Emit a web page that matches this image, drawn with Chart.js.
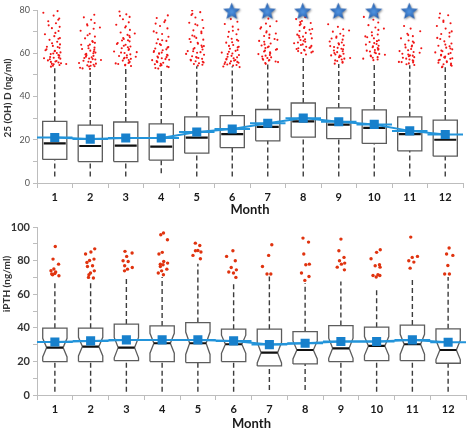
<!DOCTYPE html>
<html>
<head>
<meta charset="utf-8">
<script src="https://cdn.jsdelivr.net/npm/chart.js@4.4.1/dist/chart.umd.min.js"></script>
<style>
  html, body { margin: 0; padding: 0; background: #fff; overflow: hidden; }
  .panel { position: absolute; left: 0; width: 473px; }
  #top { top: 0; height: 217px; }
  #bottom { top: 217px; height: 211px; }
</style>
</head>
<body>
<div class="panel" id="top"><canvas id="vitdChart" width="473" height="217"></canvas></div>
<div class="panel" id="bottom"><canvas id="ipthChart" width="473" height="211"></canvas></div>
<script>
// ---- data ----
const months = [1, 2, 3, 4, 5, 6, 7, 8, 9, 10, 11, 12];
const monthLabels = ['1', '2', '3', '4', '5', '6', '7', '8', '9', '10', '11', '12'];

// 25 (OH) D, ng/ml
const vitdLow    = [3, 3, 3, 4.5, 3, 3, 3, 3, 3, 3, 3, 3];
const vitdQ1     = [10.9, 9.9, 9.9, 10.6, 13.8, 16.4, 19.5, 21.2, 20.5, 18.3, 14.9, 12.4];
const vitdMedian = [18.3, 17.1, 17.3, 16.8, 21.0, 22.6, 26.0, 28.5, 27.0, 25.5, 22.6, 20.0];
const vitdQ3     = [28.5, 26.8, 28.2, 27.3, 30.6, 31.2, 34.0, 37.0, 34.7, 33.8, 30.6, 29.1];
const vitdHigh   = [54, 53, 54, 53, 54, 54, 55, 59, 55, 56, 54.5, 53.5];
const vitdMean   = [21.0, 20.3, 20.8, 20.8, 23.6, 25.0, 27.6, 30.0, 28.3, 27.1, 24.1, 22.4];
const vitdStarMonths = [6, 7, 8, 9, 10, 11];
const vitdOutliers = [
  [53.8, 54.6, 55.1, 55.4, 56.2, 56.7, 57.5, 57.9, 58.3, 59.2, 59.6, 60.4, 61.1, 61.8, 62.5, 63.4, 64.1, 65.3, 66.2, 67.0, 67.9, 68.8, 70.3, 71.6, 72.2, 73.9, 74.8, 76.1, 77.4, 78.7, 79.5, 56.0, 58.9, 60.9, 63.0, 55.7,
   54.2, 55.0, 56.4, 57.2, 58.0, 59.9, 61.4, 62.9, 64.6, 66.7, 69.4, 72.9, 75.5, 54.9, 57.7, 60.1],
  [52.7, 53.3, 54.0, 54.4, 55.2, 55.9, 56.5, 57.1, 57.6, 58.4, 58.8, 59.7, 60.3, 61.2, 62.0, 62.6, 63.5, 64.8, 65.6, 66.9, 67.7, 69.0, 70.4, 71.3, 72.8, 74.0, 75.5, 76.6, 77.8, 53.9, 55.5, 57.3, 59.1, 61.6, 64.0,
   53.0, 54.7, 56.1, 56.9, 58.1, 59.4, 60.8, 62.3, 63.9, 65.2, 68.3, 71.9, 54.2, 57.8, 60.0, 73.4],
  [54.1, 54.7, 55.3, 56.1, 56.6, 57.4, 58.0, 58.7, 59.5, 60.1, 60.8, 61.5, 62.3, 63.1, 63.9, 64.7, 65.5, 66.6, 67.4, 68.5, 69.6, 70.8, 71.9, 73.2, 74.3, 75.7, 76.8, 78.0, 79.3, 55.8, 57.9, 60.5, 62.8, 65.9, 68.1,
   54.4, 55.0, 56.9, 57.6, 58.4, 59.1, 60.3, 61.9, 63.5, 64.3, 66.0, 67.0, 69.1, 72.5, 77.3, 55.5],
  [52.9, 53.6, 54.2, 54.9, 55.6, 56.4, 57.0, 57.7, 58.5, 59.0, 59.8, 60.6, 61.4, 62.2, 62.9, 63.8, 64.6, 65.7, 66.5, 67.6, 68.9, 70.1, 71.5, 72.6, 73.7, 75.2, 76.3, 77.5, 54.5, 56.8, 58.2, 60.0, 62.6, 66.0,
   53.2, 53.9, 55.1, 55.9, 57.3, 58.0, 59.3, 60.3, 61.0, 61.8, 64.2, 69.5, 74.4, 56.1],
  [54.3, 55.0, 55.7, 56.3, 57.0, 57.8, 58.6, 59.3, 60.2, 60.9, 61.7, 62.4, 63.3, 64.4, 65.2, 66.3, 67.1, 68.2, 69.3, 70.6, 71.7, 72.9, 74.1, 75.4, 76.5, 77.7, 79.0, 79.8, 56.1, 58.0, 61.0, 63.6, 67.8,
   54.7, 55.4, 56.7, 57.4, 58.3, 59.7, 60.5, 62.0, 62.9, 64.8, 66.6, 70.0, 73.4, 78.3],
  [53.6, 54.3, 55.0, 55.6, 56.3, 57.1, 57.7, 58.4, 59.2, 59.9, 60.7, 61.5, 62.1, 63.0, 63.8, 64.9, 65.8, 66.7, 67.6, 68.8, 69.9, 71.0, 72.3, 73.5, 74.6, 75.8, 54.8, 56.9, 59.6, 62.7, 65.1,
   53.9, 54.6, 55.3, 56.0, 56.6, 57.4, 58.1, 58.8, 60.3, 61.1, 63.4, 66.2, 70.4, 55.8],
  [55.1, 55.9, 56.6, 57.4, 58.1, 58.9, 59.6, 60.4, 61.2, 61.9, 62.8, 63.6, 64.5, 65.3, 66.2, 67.1, 68.0, 69.1, 70.2, 71.4, 72.5, 73.7, 74.8, 76.0, 57.0, 60.0, 62.4, 65.7, 68.6,
   55.5, 56.2, 57.8, 58.5, 59.2, 60.8, 61.6, 63.1, 64.1, 66.6, 69.6, 72.0, 56.9],
  [59.4, 60.1, 60.8, 61.6, 62.3, 63.0, 63.8, 64.6, 65.3, 66.1, 66.9, 67.7, 68.6, 69.4, 70.3, 71.2, 72.1, 73.0, 74.0, 74.9, 75.8, 76.7, 61.0, 63.4, 65.8, 68.1, 70.9, 73.5,
   60.4, 61.3, 62.0, 62.7, 64.1, 65.0, 66.5, 67.3, 69.0, 71.7, 74.4, 62.5],
  [55.2, 56.0, 56.7, 57.5, 58.2, 59.0, 59.8, 60.5, 61.3, 62.1, 62.9, 63.7, 64.6, 65.4, 66.3, 67.2, 68.1, 69.0, 70.0, 71.1, 72.2, 73.4, 57.1, 59.4, 61.8, 64.1, 66.8,
   55.6, 56.4, 57.8, 58.6, 60.1, 60.9, 62.5, 63.3, 65.0, 67.7, 70.5, 58.9],
  [56.8, 57.5, 58.2, 58.9, 59.7, 60.4, 61.2, 62.0, 62.8, 63.5, 64.3, 65.2, 66.0, 66.9, 67.8, 68.7, 69.7, 70.8, 71.9, 73.0, 74.2, 75.5, 76.8, 78.1, 58.6, 61.6, 64.7, 67.4,
   57.1, 57.9, 59.3, 60.0, 60.8, 62.4, 63.2, 64.0, 65.6, 68.2, 71.4, 61.5],
  [54.6, 55.3, 56.0, 56.7, 57.5, 58.2, 59.0, 59.8, 60.6, 61.4, 62.3, 63.1, 64.0, 64.9, 65.9, 66.9, 67.9, 69.0, 70.2, 71.4, 72.6, 56.4, 58.6, 61.0, 63.6,
   54.9, 55.7, 57.1, 57.9, 58.9, 59.4, 60.2, 62.0, 62.7, 65.4, 68.4, 55.9],
  [53.5, 54.2, 54.9, 55.6, 56.3, 57.0, 57.7, 58.5, 59.3, 60.1, 60.9, 61.8, 62.6, 63.5, 64.5, 65.5, 66.6, 67.7, 68.9, 70.1, 71.4, 72.6, 73.9, 75.1, 76.4, 77.6, 78.4, 55.2, 57.9, 60.4, 63.2,
   53.8, 54.6, 55.9, 56.7, 57.4, 58.1, 59.0, 59.7, 61.3, 62.2, 64.0, 67.1, 69.5, 74.5]
];

// iPTH, ng/ml
const ipthLow    = [2, 2, 2, 2, 2, 2, 3, 3, 2, 2, 2, 2];
const ipthQ1     = [19.9, 19.9, 20.5, 19.9, 19.3, 19.9, 17.3, 18.5, 19.9, 20.5, 20.5, 18.9];
const ipthMedian = [28.2, 28.8, 28.2, 30.8, 30.8, 30.2, 25.2, 26.8, 27.8, 29.2, 30.2, 26.8];
const ipthQ3     = [39.8, 39.8, 42.2, 41.1, 43.1, 39.2, 39.2, 37.7, 41.3, 40.4, 41.6, 39.4];
const ipthHigh   = [67.6, 67.6, 69.0, 70.2, 78.1, 67.6, 70.5, 66.6, 67.6, 64.0, 69.6, 70.2];
const ipthMean   = [31.6, 32.2, 32.8, 32.8, 32.8, 32.2, 30.0, 30.8, 31.8, 31.8, 32.8, 31.4];
const ipthOutliers = [
  [88.4, 80.9, 77.9, 75.0, 74.0, 73.2, 72.0, 71.0, 72.3, 71.6],
  [87.0, 85.1, 83.9, 80.9, 80.1, 78.9, 76.9, 76.5, 73.9, 72.6, 70.0, 69.6, 71.6],
  [85.5, 84.5, 82.5, 79.9, 79.5, 76.9, 75.9, 74.9, 73.9],
  [96.4, 95.4, 92.4, 84.9, 83.9, 79.5, 77.9, 78.5, 77.5, 76.5, 74.9, 73.9, 72.6, 71.6],
  [90.4, 89.0, 85.9, 85.1, 86.0, 83.1, 81.1],
  [85.9, 82.5, 79.9, 75.9, 74.5, 72.6, 73.2, 70.0],
  [89.4, 83.1, 76.5, 72.0, 72.0],
  [93.4, 91.0, 83.9, 77.9, 77.5, 72.6, 70.5, 68.2],
  [92.8, 85.9, 81.9, 79.9, 78.5, 77.9, 76.1, 74.5],
  [86.5, 84.9, 81.1, 77.5, 76.9, 76.1, 71.6, 71.1, 71.1, 70.2],
  [94.0, 82.5, 81.9, 79.9, 79.1, 75.5],
  [87.5, 83.9, 83.1, 77.1, 72.0, 72.0]
];

// ---- styling ----
const FONT = 'Lato, "Open Sans", "DejaVu Sans", sans-serif';
const BLUE_LINE = '#2394da';
const BLUE_MARK = '#1780cc';
const AXIS_GREY = '#bdbdbd';

function makeStar(size) {
  const c = document.createElement('canvas');
  c.width = c.height = size;
  const g = c.getContext('2d');
  const cx = size / 2 - 0.5, cy = size / 2 - 0.5, R = size / 2 - 2, r = R * 0.45;
  g.beginPath();
  for (let k = 0; k < 10; k++) {
    const a = -Math.PI / 2 + k * Math.PI / 5;
    const rad = k % 2 === 0 ? R : r;
    g.lineTo(cx + rad * Math.cos(a), cy + rad * Math.sin(a));
  }
  g.closePath();
  g.shadowColor = 'rgba(0,0,0,0.4)';
  g.shadowBlur = 2;
  g.shadowOffsetX = 1;
  g.shadowOffsetY = 1;
  const grad = g.createRadialGradient(cx, cy, 1, cx, cy, R);
  grad.addColorStop(0, '#4d8fdb');
  grad.addColorStop(1, '#1b52a3');
  g.fillStyle = grad;
  g.fill();
  return c;
}

// spreads points of one month sideways (fixed pattern, not random),
// packed more tightly around the whisker line
function spread(j, width, shift) {
  const u = (j * 0.618034 + shift) % 1;
  const v = (j * 0.754878 + shift * 0.5) % 1;
  return (u - 0.5) * width * (0.35 + 0.65 * v);
}

// rotated y axis title, drawn left of the axis
const yTitlePlugin = {
  id: 'yTitle',
  afterDraw(chart, args, opts) {
    const { ctx, chartArea } = chart;
    ctx.save();
    ctx.translate(opts.x, chartArea.top + opts.dy);
    ctx.rotate(-Math.PI / 2);
    ctx.font = opts.font;
    ctx.fillStyle = opts.color;
    ctx.textAlign = 'center';
    ctx.textBaseline = 'middle';
    ctx.fillText(opts.text, 0, 0);
    ctx.restore();
  }
};

function boxDatasets(p) {
  const half = 0.34;      // half box width, in months
  const dent = p.notched ? 0.11 : 0;
  const boxes = [], whiskers = [], medians = [], segs = [];
  months.forEach((m, i) => {
    const q1 = p.q1[i], q3 = p.q3[i], md = p.median[i];
    const L = m - half, R = m + half;
    if (p.notched) {
      const n = (q3 - q1) * 0.28;
      boxes.push({ x: L, y: q1 }, { x: L, y: md - n }, { x: L + dent, y: md }, { x: L, y: md + n },
        { x: L, y: q3 }, { x: R, y: q3 }, { x: R, y: md + n }, { x: R - dent, y: md },
        { x: R, y: md - n }, { x: R, y: q1 }, { x: L, y: q1 }, { x: m, y: null });
    } else {
      boxes.push({ x: L, y: q1 }, { x: L, y: q3 }, { x: R, y: q3 }, { x: R, y: q1 },
        { x: L, y: q1 }, { x: m, y: null });
    }
    whiskers.push({ x: m, y: p.low[i] }, { x: m, y: q1 }, { x: m, y: null },
      { x: m, y: q3 }, { x: m, y: p.high[i] }, { x: m, y: null });
    const mi = p.notched ? dent : 0.03;
    medians.push({ x: L + mi, y: md }, { x: R - mi, y: md }, { x: m, y: null });
    segs.push({ x: m - 0.5, y: p.mean[i] }, { x: m + 0.5, y: p.mean[i] }, { x: m, y: null });
  });

  const outliers = [];
  p.outliers.forEach((vals, i) => {
    vals.forEach((v, j) => outliers.push({
      x: months[i] + spread(j, p.spreadWidth, (p.spreadShift + i * 0.37) % 1), y: v
    }));
  });

  const sets = [];
  if (p.stars) {
    sets.push({
      data: p.stars.map(m => ({ x: m, y: 79 })),
      showLine: false, pointStyle: makeStar(22), pointRadius: 9, clip: false
    });
  }
  sets.push(
    {
      data: months.map((m, i) => ({ x: m, y: p.mean[i] })),
      borderColor: BLUE_LINE, borderWidth: 2, pointStyle: 'rect', pointRadius: 5,
      pointBackgroundColor: BLUE_MARK, pointBorderColor: BLUE_MARK
    },
    { data: segs, borderColor: BLUE_LINE, borderWidth: 2, pointRadius: 0 },
    { data: medians, borderColor: '#111', borderWidth: 2.2, pointRadius: 0 },
    { data: boxes, borderColor: '#5c5c5c', borderWidth: 1.3, pointRadius: 0, borderJoinStyle: 'miter' },
    { data: whiskers, borderColor: '#3c3c3c', borderWidth: 1.4, borderDash: [5, 3], pointRadius: 0 },
    {
      data: outliers, showLine: false, pointRadius: p.dotSize, pointBorderWidth: 0,
      pointBackgroundColor: p.dotColor
    }
  );
  return sets;
}

function makeChart(canvasId, p) {
  return new Chart(document.getElementById(canvasId), {
    type: 'line',
    data: { datasets: boxDatasets(p) },
    plugins: [yTitlePlugin],
    options: {
      responsive: false,
      animation: false,
      events: [],
      spanGaps: false,
      layout: { padding: { top: p.padTop, left: 0, right: 0, bottom: 0 } },
      plugins: {
        legend: { display: false },
        tooltip: { enabled: false },
        yTitle: p.yTitle
      },
      scales: {
        x: {
          type: 'linear', min: 0.5, max: 12.5,
          afterBuildTicks: s => { s.ticks = months.map(v => ({ value: v })); },
          afterFit: s => { s.height = p.xHeight; },
          ticks: {
            autoSkip: false, maxRotation: 0, padding: 3,
            callback: v => monthLabels[months.indexOf(v)],
            font: { family: FONT, size: p.xTickSize, weight: 'bold' }, color: '#1a1a1a'
          },
          grid: { offset: true, drawOnChartArea: false, tickLength: 5, color: AXIS_GREY },
          border: { color: AXIS_GREY },
          title: {
            display: true, text: 'Month', color: '#1a1a1a',
            font: { family: FONT, size: 13, weight: 'bold' }, padding: { top: 0, bottom: p.titleShift }
          }
        },
        y: {
          min: 0, max: p.yMax,
          afterFit: s => { s.width = 37; },
          ticks: {
            stepSize: 10, padding: 3,
            callback: v => (v % 20 === 0 ? String(v) : ''),
            font: { family: FONT, size: p.yTickSize, weight: p.yTickWeight }, color: p.yTickColor
          },
          grid: { drawOnChartArea: false, tickLength: 4, color: AXIS_GREY },
          border: { color: AXIS_GREY }
        }
      }
    }
  });
}

makeChart('vitdChart', {
  low: vitdLow, q1: vitdQ1, median: vitdMedian, q3: vitdQ3, high: vitdHigh, mean: vitdMean,
  outliers: vitdOutliers, stars: vitdStarMonths, notched: false,
  dotSize: 1.05, dotColor: '#f01515', spreadWidth: 0.7, spreadShift: 0.1,
  yMax: 80, padTop: 7, xHeight: 34, xTickSize: 11, titleShift: -1,
  yTickSize: 9, yTickWeight: 'normal', yTickColor: '#555',
  yTitle: { text: '25 (OH) D (ng/ml)', x: 8, dy: 88, font: 'bold 10px ' + FONT, color: '#333' }
});

makeChart('ipthChart', {
  low: ipthLow, q1: ipthQ1, median: ipthMedian, q3: ipthQ3, high: ipthHigh, mean: ipthMean,
  outliers: ipthOutliers, stars: null, notched: true,
  dotSize: 1.7, dotColor: '#e0330f', spreadWidth: 0.42, spreadShift: 0.55,
  yMax: 100, padTop: 10, xHeight: 33, xTickSize: 11, titleShift: -4,
  yTickSize: 11, yTickWeight: 'bold', yTickColor: '#333',
  yTitle: { text: 'iPTH (ng/ml)', x: 7, dy: 57, font: 'bold 10px ' + FONT, color: '#333' }
});
</script>
</body>
</html>
